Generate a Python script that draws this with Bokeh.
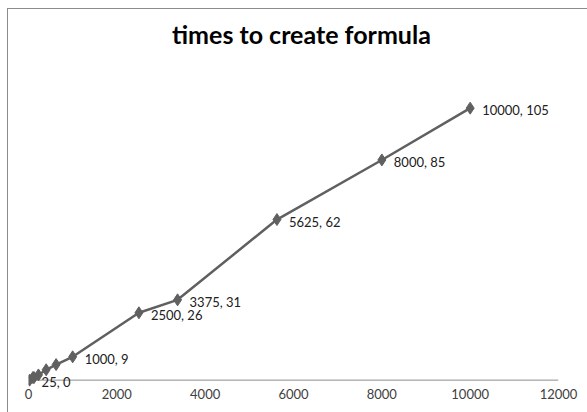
from bokeh.plotting import figure
from bokeh.models import ColumnDataSource, Label, Range1d, FixedTicker, LabelSet, Span
from bokeh.embed import file_html
from bokeh.resources import INLINE
from bokeh.core.properties import value

# data
sizes = [25, 100, 125, 225, 400, 625, 1000, 2500, 3375, 5625, 8000, 10000]
times = [0, 1, 1, 2, 4, 6, 9, 26, 31, 62, 85, 105]
label_x = [25, 1000, 2500, 3375, 5625, 8000, 10000]
label_y = [0, 9, 26, 31, 62, 85, 105]
label_text = ["25, 0", "1000, 9", "2500, 26", "3375, 31", "5625, 62", "8000, 85", "10000, 105"]
x_ticks = [0, 2000, 4000, 6000, 8000, 10000, 12000]
title_text = "times to create formula"

p = figure(width=580, height=404, output_backend="svg", toolbar_location=None,
           x_range=Range1d(0, 12000), y_range=Range1d(-4, 140),
           min_border_left=20, min_border_right=30, min_border_top=8, min_border_bottom=23)
p.styles = {"border-top": "1.5px solid #8c8c8c", "border-left": "1.5px solid #8c8c8c",
            "margin-left": "7px", "margin-top": "8px"}
p.outline_line_color = None
p.xgrid.visible = False
p.ygrid.visible = False
p.yaxis.visible = False
p.background_fill_color = "white"
p.border_fill_color = "white"

ax = p.xaxis[0]
ax.ticker = FixedTicker(ticks=x_ticks)
ax.axis_line_color = None
ax.major_tick_line_color = None
ax.minor_tick_line_color = None
ax.major_label_text_font = "Lato"
ax.major_label_text_font_size = "13px"
ax.major_label_text_color = "#404040"
ax.major_label_standoff = -8

# x axis line at y = 0
p.add_layout(Span(location=0, dimension="width", line_color="#8c8c8c", line_width=1, level="underlay"))

src = ColumnDataSource(dict(x=sizes, y=times))
p.line("x", "y", source=src, line_color="#606060", line_width=2.5)
p.scatter("x", "y", source=src, marker="diamond", size=12, fill_color="#606060", line_color="#606060")

lsrc = ColumnDataSource(dict(x=label_x, y=label_y, t=label_text))
p.add_layout(LabelSet(x="x", y="y", text="t", source=lsrc, x_offset=12, y_offset=-2,
                      text_font=value("Lato"), text_font_size="13px", text_color="#202020",
                      text_baseline="middle", text_align="left"))

p.add_layout(Label(x=6180, y=133.6, text=title_text, text_font="Lato", text_font_style="bold",
                   text_font_size="25px", text_align="center", text_baseline="middle",
                   text_color="#000000"))

open("out.html", "w").write(file_html(p, INLINE))
